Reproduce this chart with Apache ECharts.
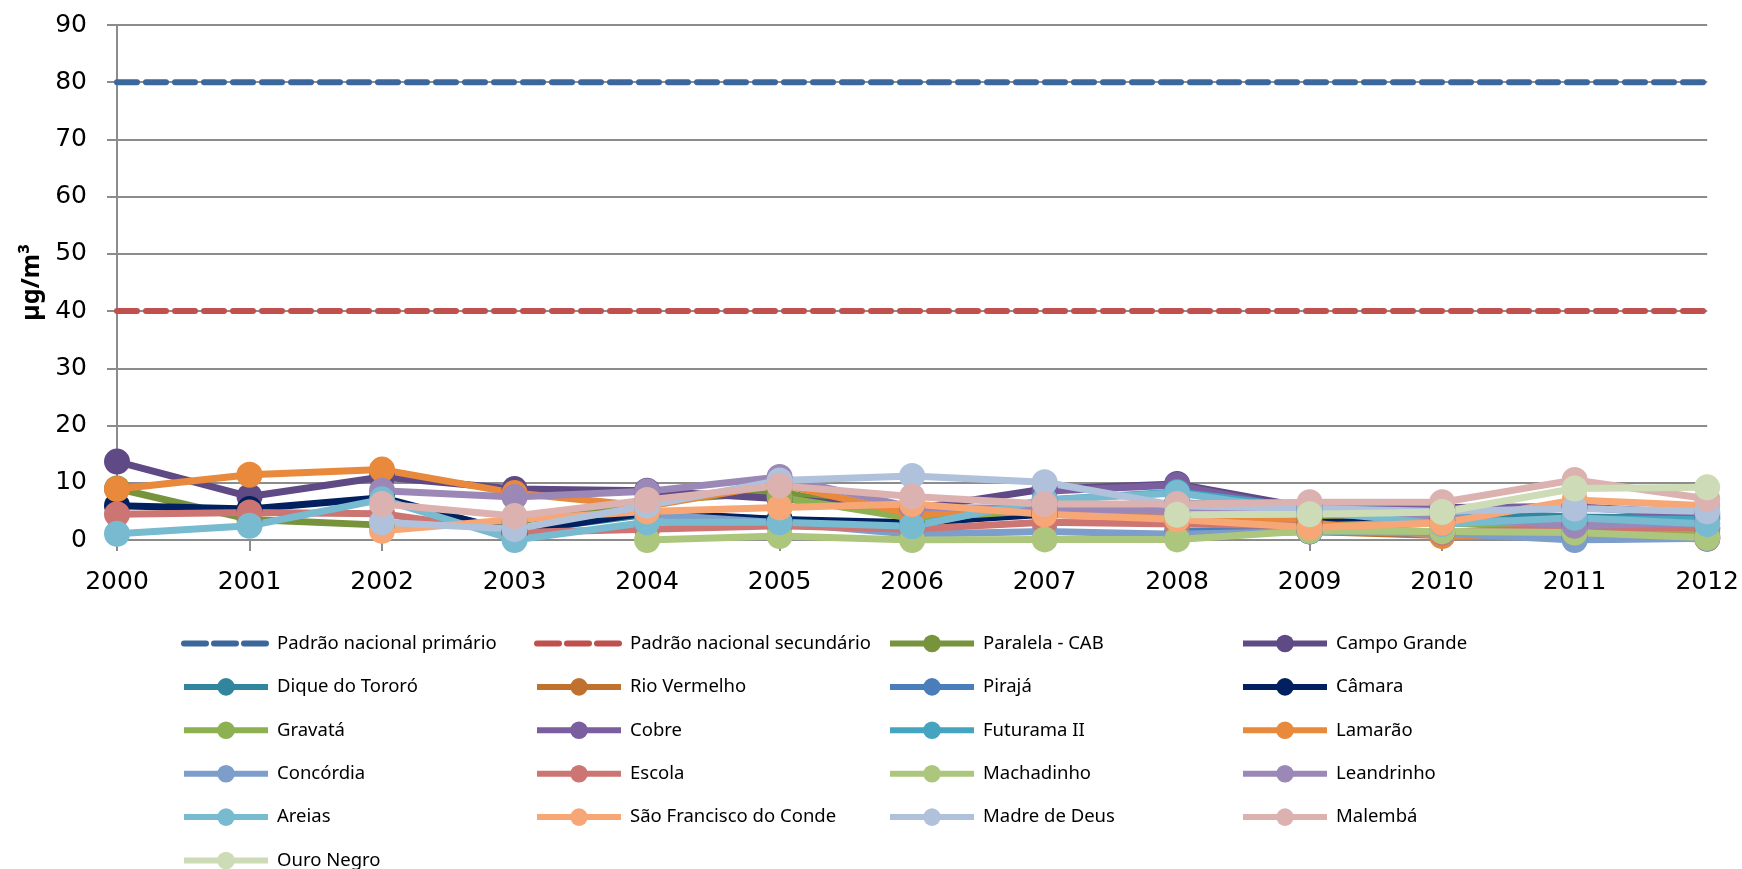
<!DOCTYPE html>
<html>
<head>
<meta charset="utf-8">
<title>Concentração média anual</title>
<script src="https://cdn.jsdelivr.net/npm/echarts@6/dist/echarts.min.js"></script>
<style>
  html, body { margin: 0; padding: 0; background: #fff; }
  #chart { width: 1742px; height: 869px; }
</style>
</head>
<body>
<div id="chart"></div>
<script>
// anos (eixo x)
var years = ['2000', '2001', '2002', '2003', '2004', '2005', '2006', '2007', '2008', '2009', '2010', '2011', '2012'];

// padrões nacionais (µg/m³)
var padraoPrimario = [80, 80, 80, 80, 80, 80, 80, 80, 80, 80, 80, 80, 80];
var padraoSecundario = [40, 40, 40, 40, 40, 40, 40, 40, 40, 40, 40, 40, 40];

// estações
var paralelaCab = [9.0, 3.6, 2.6, 3.2, 6.8, 8.4, 4.2, 5.6, 5.0, 4.0, 3.6, 1.5, 0.8];
var campoGrande = [13.7, 7.6, 11.0, 8.9, 8.6, 7.2, 5.4, 8.9, 9.8, 5.6, 5.7, 5.8, 4.6];
var diqueTororo = [null, null, 7.0, 1.5, 4.5, 3.6, 2.6, 5.0, 6.5, 5.6, 5.0, 4.0, 3.8];
var rioVermelho = [null, null, null, null, null, null, null, null, 1.0, 1.5, 0.8, 0.5, 0.2];
var piraja = [null, null, null, null, null, null, null, null, 1.5, 1.5, 1.2, 0.3, 0.3];
var camara = [6.0, 5.4, 7.4, 1.3, 4.8, 3.6, 3.0, 4.5, 4.0, 3.0, 3.4, 2.5, 2.0];
var gravata = [null, null, null, null, null, 7.5, 3.8, 5.2, 4.2, 2.5, 3.0, 2.0, 1.5];
var cobre = [null, null, null, null, null, null, null, 8.5, 9.6, 5.0, 5.5, 5.8, 4.2];
var futurama = [null, null, null, null, null, null, 2.5, 7.0, 8.4, 5.6, 3.0, 3.7, 3.6];
var lamarao = [8.9, 11.4, 12.3, 8.2, 5.9, 9.8, 4.5, 5.5, 4.8, 3.0, 0.7, 0.8, 0.6];
var concordia = [null, null, null, null, 4.5, 3.0, 1.0, 1.5, 1.0, 1.5, 1.2, 0.0, 0.3];
var escola = [4.5, 4.8, 4.6, 1.3, 1.9, 2.5, 1.9, 3.1, 2.8, 2.5, 1.3, 2.2, 2.2];
var machadinho = [null, null, null, null, 0.0, 0.7, 0.0, 0.1, 0.1, 1.6, 1.5, 1.3, 0.4];
var leandrinho = [null, null, 8.6, 7.5, 8.5, 11.0, 5.7, 5.5, 5.0, 4.5, 4.0, 2.5, 3.0];
var areias = [1.1, 2.5, 7.1, 0.0, 3.1, 3.1, 2.4, 7.0, 8.2, 5.0, 2.8, 3.9, 2.8];
var saoFrancisco = [null, null, 1.6, 3.6, 5.0, 5.7, 6.3, 4.5, 3.6, 2.2, 3.0, 7.0, 6.0];
var madreDeus = [null, null, 3.1, 1.9, 6.0, 10.4, 11.2, 10.1, 6.0, 5.5, 5.0, 5.5, 5.0];
var malemba = [null, null, 6.3, 4.2, 7.0, 9.5, 7.6, 6.3, 6.3, 6.6, 6.6, 10.5, 7.2];
var ouroNegro = [null, null, null, null, null, null, null, null, 4.4, 4.5, 4.9, 9.0, 9.2];

// eixo y
var yTicks = [0, 10, 20, 30, 40, 50, 60, 70, 80, 90];

var chart = echarts.init(document.getElementById('chart'));

// padrão tracejado
function padrao(name, data, color) {
  return {
    name: name,
    type: 'line',
    data: data,
    symbol: 'none',
    silent: true,
    lineStyle: { color: color, width: 6, type: [20, 9], cap: 'round' },
    itemStyle: { color: color }
  };
}

// estação com marcador
function estacao(name, data, color) {
  return {
    name: name,
    type: 'line',
    data: data,
    symbol: 'circle',
    symbolSize: 26,
    connectNulls: false,
    lineStyle: { color: color, width: 7 },
    itemStyle: { color: color }
  };
}

var series = [
  padrao('Padrão nacional primário', padraoPrimario, '#3b679c'),
  padrao('Padrão nacional secundário', padraoSecundario, '#c0504d'),
  estacao('Paralela - CAB', paralelaCab, '#77933c'),
  estacao('Campo Grande', campoGrande, '#5f4a86'),
  estacao('Dique do Tororó', diqueTororo, '#31859c'),
  estacao('Rio Vermelho', rioVermelho, '#c0712d'),
  estacao('Pirajá', piraja, '#4a7ebb'),
  estacao('Câmara', camara, '#002060'),
  estacao('Gravatá', gravata, '#8db050'),
  estacao('Cobre', cobre, '#7b5ea0'),
  estacao('Futurama II', futurama, '#45a5c0'),
  estacao('Lamarão', lamarao, '#e8893b'),
  estacao('Concórdia', concordia, '#7d9dcb'),
  estacao('Escola', escola, '#cc7572'),
  estacao('Machadinho', machadinho, '#adc67e'),
  estacao('Leandrinho', leandrinho, '#9b88b6'),
  estacao('Areias', areias, '#78bad0'),
  estacao('São Francisco do Conde', saoFrancisco, '#f7a676'),
  estacao('Madre de Deus', madreDeus, '#b0c1dc'),
  estacao('Malembá', malemba, '#dcb2b0'),
  estacao('Ouro Negro', ouroNegro, '#cddcb7')
];

// legenda em 4 colunas
var legendCols = [
  ['Padrão nacional primário', 'Dique do Tororó', 'Gravatá', 'Concórdia', 'Areias', 'Ouro Negro'],
  ['Padrão nacional secundário', 'Rio Vermelho', 'Cobre', 'Escola', 'São Francisco do Conde'],
  ['Paralela - CAB', 'Pirajá', 'Futurama II', 'Machadinho', 'Madre de Deus'],
  ['Campo Grande', 'Câmara', 'Lamarão', 'Leandrinho', 'Malembá']
];
var legendLeft = [176, 529, 882, 1235];

// os padrões tracejados aparecem sem marcador na legenda
function legendItem(name) {
  if (name.indexOf('Padrão') === 0) {
    return { name: name, itemStyle: { opacity: 0 }, lineStyle: { width: 6, type: [22, 8], cap: 'round' } };
  }
  return { name: name };
}

var legends = legendCols.map(function (col, i) {
  return {
    orient: 'vertical',
    left: legendLeft[i],
    top: 629,
    width: 340,
    height: 320,
    itemWidth: 84,
    itemHeight: 22,
    itemGap: 24.4,
    selectedMode: false,
    data: col.map(legendItem),
    lineStyle: { width: 6 },
    textStyle: {
      fontFamily: 'Noto Sans',
      fontSize: 18.5,
      color: '#000',
      padding: [0, 0, 0, 4]
    }
  };
});

var option = {
  backgroundColor: '#fff',
  animation: false,
  grid: { left: 117, right: 31, top: 25, bottom: 329 },
  legend: legends,
  xAxis: {
    type: 'category',
    data: years,
    boundaryGap: false,
    axisLine: { lineStyle: { color: '#8c8c8c', width: 2 } },
    axisTick: { show: true, alignWithLabel: true, length: 11, lineStyle: { color: '#8c8c8c', width: 2 } },
    axisLabel: { fontFamily: 'DejaVu Sans', fontSize: 25, color: '#000', margin: 30 },
    splitLine: { show: false }
  },
  yAxis: {
    type: 'value',
    min: yTicks[0],
    max: yTicks[yTicks.length - 1],
    interval: 10,
    name: 'µg/m³',
    nameLocation: 'middle',
    nameGap: 72,
    nameTextStyle: { fontFamily: 'Noto Sans', fontWeight: 'bold', fontSize: 25, color: '#000' },
    axisLine: { show: true, lineStyle: { color: '#8c8c8c', width: 2 } },
    axisTick: { show: true, length: 10, lineStyle: { color: '#8c8c8c', width: 2 } },
    axisLabel: { fontFamily: 'DejaVu Sans', fontSize: 25, color: '#000', margin: 30 },
    splitLine: { show: true, lineStyle: { color: '#8c8c8c', width: 2 } }
  },
  series: series
};

chart.setOption(option);
</script>
</body>
</html>
